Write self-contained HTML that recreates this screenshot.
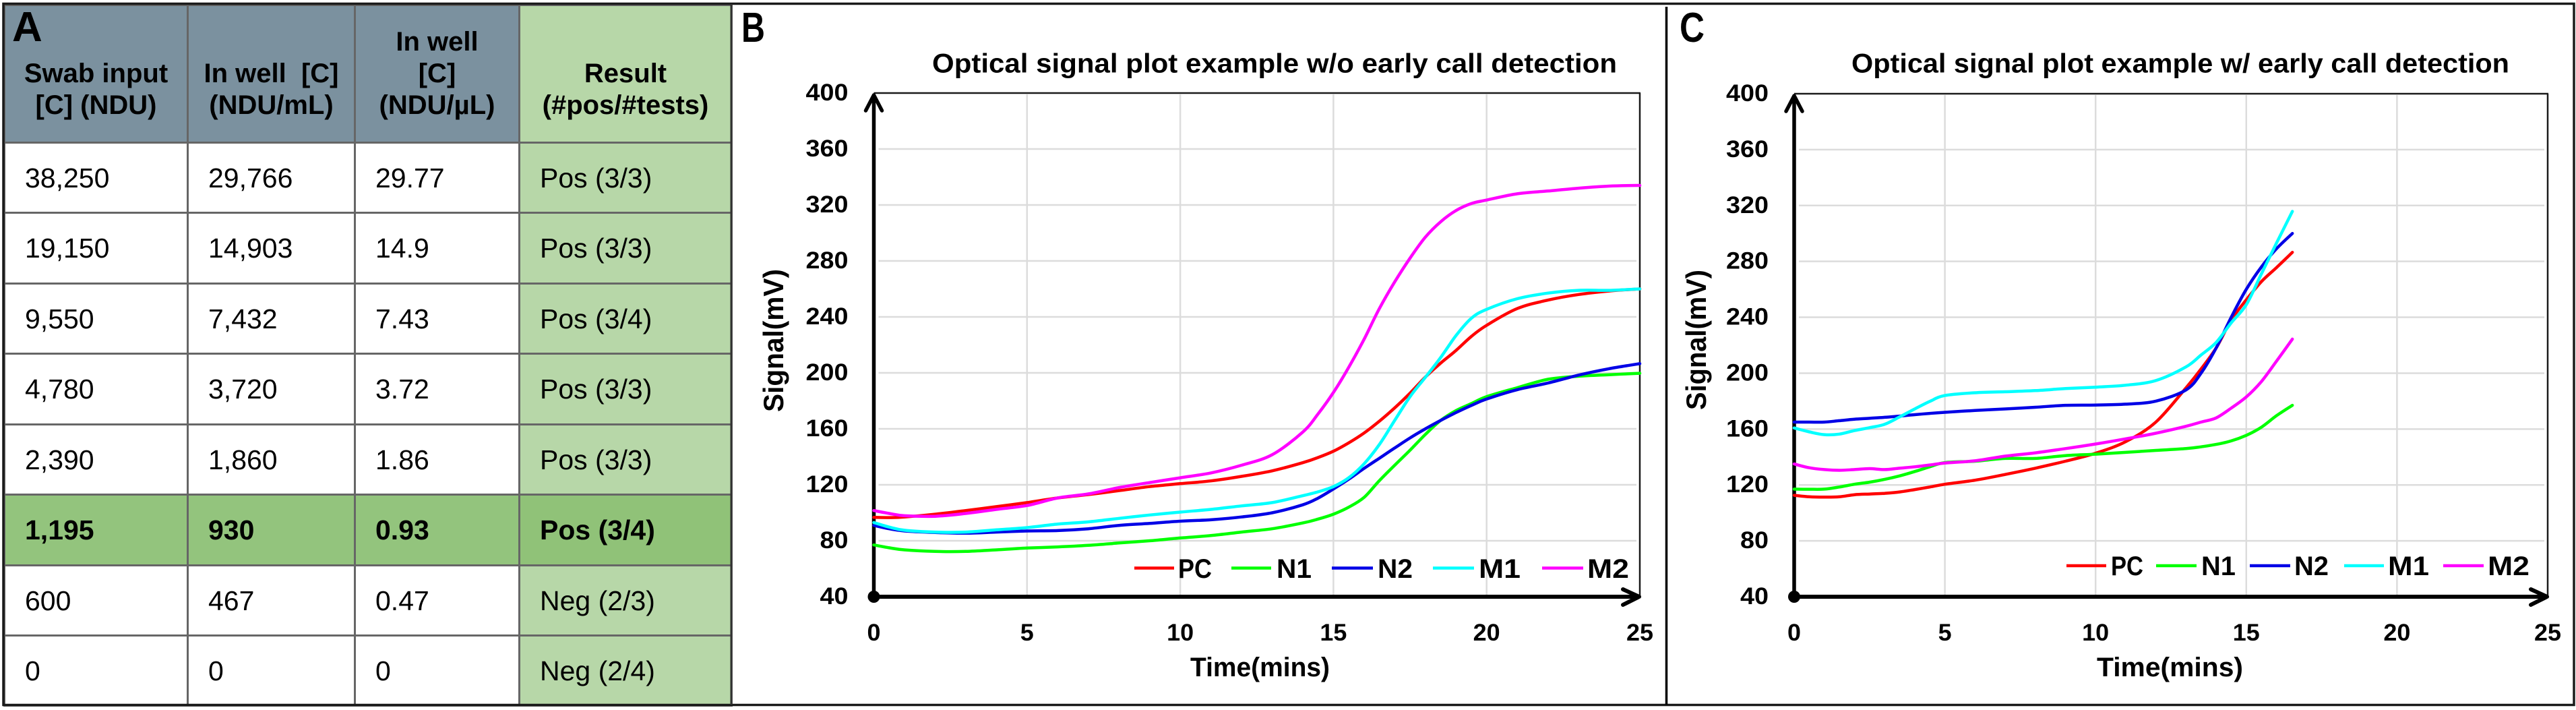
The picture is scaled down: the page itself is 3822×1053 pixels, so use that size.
<!DOCTYPE html>
<html lang="en">
<head>
<meta charset="utf-8">
<title>Optical signal plots and dilution table</title>
<style>
  html, body { margin: 0; padding: 0; background: #fff; }
  body { position: relative; width: 3822px; height: 1053px; overflow: hidden; font-family: "Liberation Sans", Arial, sans-serif; color: #000; }
  #plots { position: absolute; left: 0; top: 0; }
  #plots text { font-family: "Liberation Sans", Arial, sans-serif; font-weight: bold; fill: #000; }
  table { position: absolute; left: 5px; top: 6px; border-collapse: collapse; table-layout: fixed; width: 1079px; }
  td { border: 3px solid #666; font-size: 41px; padding: 0 0 0 29px; vertical-align: middle; line-height: 46px; background: #fff; overflow: hidden; white-space: nowrap; }
  td.r { background: #b7d7a8; }
  tr.hl td { background: #93c47d; font-weight: bold; }
  tr.hl td.r { background: #90c278; }
  tr.head td { background: #7b919f; font-size: 40px; font-weight: bold; text-align: center; padding: 0; vertical-align: bottom; padding-bottom: 30px; line-height: 47px; height: 171px; }
  tr.head td.r { background: #b7d7a8; }
  tr.body:nth-child(even) td { height: 101px; }
  tr.body:nth-child(odd) td { height: 102px; }
  tr.body:last-child td { height: 101px; }
  #label-a { position: absolute; left: 18px; top: 5px; font-size: 62px; font-weight: bold; line-height: 72px; }
</style>
</head>
<body>

<table>
  <colgroup><col style="width:272px"><col style="width:248px"><col style="width:244px"><col style="width:315px"></colgroup>
  <tr class="head">
    <td>Swab input<br>[C] (NDU)</td>
    <td>In well&nbsp; [C]<br>(NDU/mL)</td>
    <td>In well<br>[C]<br>(NDU/µL)</td>
    <td class="r">Result<br>(#pos/#tests)</td>
  </tr>
  <tr class="body"><td>38,250</td><td>29,766</td><td>29.77</td><td class="r">Pos (3/3)</td></tr>
  <tr class="body"><td>19,150</td><td>14,903</td><td>14.9</td><td class="r">Pos (3/3)</td></tr>
  <tr class="body"><td>9,550</td><td>7,432</td><td>7.43</td><td class="r">Pos (3/4)</td></tr>
  <tr class="body"><td>4,780</td><td>3,720</td><td>3.72</td><td class="r">Pos (3/3)</td></tr>
  <tr class="body"><td>2,390</td><td>1,860</td><td>1.86</td><td class="r">Pos (3/3)</td></tr>
  <tr class="body hl"><td>1,195</td><td>930</td><td>0.93</td><td class="r">Pos (3/4)</td></tr>
  <tr class="body"><td>600</td><td>467</td><td>0.47</td><td class="r">Neg (2/3)</td></tr>
  <tr class="body"><td>0</td><td>0</td><td>0</td><td class="r">Neg (2/4)</td></tr>
</table>
<div id="label-a">A</div>

<svg id="plots" width="3822" height="1053" viewBox="0 0 3822 1053" xmlns="http://www.w3.org/2000/svg">
  <rect x="5" y="5.5" width="3814" height="1040" fill="none" stroke="#1a1a1a" stroke-width="3.5"/>
  <line x1="1085" y1="6" x2="1085" y2="1045" stroke="#333" stroke-width="3"/>
  <line x1="2472.5" y1="10" x2="2472.5" y2="1045" stroke="#000" stroke-width="3.5"/>

  <text x="1100" y="62" font-size="62" textLength="35" lengthAdjust="spacingAndGlyphs">B</text>
  <text x="2492" y="62" font-size="62" textLength="37" lengthAdjust="spacingAndGlyphs">C</text>

  <text x="1383" y="107.5" font-size="40" textLength="1016" lengthAdjust="spacingAndGlyphs">Optical signal plot example w/o early call detection</text>
  <text x="2747" y="107.5" font-size="40" textLength="976" lengthAdjust="spacingAndGlyphs">Optical signal plot example w/ early call detection</text>

  <text x="1766" y="1003" font-size="40" textLength="207" lengthAdjust="spacingAndGlyphs">Time(mins)</text>
  <text x="3111" y="1003" font-size="40" textLength="217" lengthAdjust="spacingAndGlyphs">Time(mins)</text>
  <text transform="translate(1162,611) rotate(-90)" font-size="42" textLength="212" lengthAdjust="spacingAndGlyphs">Signal(mV)</text>
  <text transform="translate(2531,608) rotate(-90)" font-size="42" textLength="208" lengthAdjust="spacingAndGlyphs">Signal(mV)</text>

  <g id="chart-b"></g>
  <g id="chart-c"></g>

  <g>
    <line x1="1683" y1="842.5" x2="1742" y2="842.5" stroke="#ff0000" stroke-width="4.5"/>
    <text x="1748" y="857" font-size="40" textLength="50" lengthAdjust="spacingAndGlyphs">PC</text>
    <line x1="1827" y1="842.5" x2="1886" y2="842.5" stroke="#00ff00" stroke-width="4.5"/>
    <text x="1894" y="857" font-size="40" textLength="52" lengthAdjust="spacingAndGlyphs">N1</text>
    <line x1="1976" y1="842.5" x2="2037" y2="842.5" stroke="#0000e6" stroke-width="4.5"/>
    <text x="2044" y="857" font-size="40" textLength="52" lengthAdjust="spacingAndGlyphs">N2</text>
    <line x1="2126" y1="842.5" x2="2187" y2="842.5" stroke="#00ffff" stroke-width="4.5"/>
    <text x="2194" y="857" font-size="40" textLength="62" lengthAdjust="spacingAndGlyphs">M1</text>
    <line x1="2288" y1="842.5" x2="2349" y2="842.5" stroke="#ff00ff" stroke-width="4.5"/>
    <text x="2355" y="857" font-size="40" textLength="62" lengthAdjust="spacingAndGlyphs">M2</text>
  </g>
  <g>
    <line x1="3066" y1="839" x2="3125" y2="839" stroke="#ff0000" stroke-width="4.5"/>
    <text x="3132" y="853" font-size="40" textLength="48" lengthAdjust="spacingAndGlyphs">PC</text>
    <line x1="3199" y1="839" x2="3259" y2="839" stroke="#00ff00" stroke-width="4.5"/>
    <text x="3266" y="853" font-size="40" textLength="51" lengthAdjust="spacingAndGlyphs">N1</text>
    <line x1="3338" y1="839" x2="3398" y2="839" stroke="#0000e6" stroke-width="4.5"/>
    <text x="3404" y="853" font-size="40" textLength="51" lengthAdjust="spacingAndGlyphs">N2</text>
    <line x1="3478" y1="839" x2="3537" y2="839" stroke="#00ffff" stroke-width="4.5"/>
    <text x="3543" y="853" font-size="40" textLength="61" lengthAdjust="spacingAndGlyphs">M1</text>
    <line x1="3625" y1="839" x2="3685" y2="839" stroke="#ff00ff" stroke-width="4.5"/>
    <text x="3691" y="853" font-size="40" textLength="62" lengthAdjust="spacingAndGlyphs">M2</text>
  </g>
</svg>

<script>
const xTickLabels = [0, 5, 10, 15, 20, 25];
const yTickLabels = [40, 80, 120, 160, 200, 240, 280, 320, 360, 400];
const seriesNames = ['PC', 'N1', 'N2', 'M1', 'M2'];

const timesB = [0,0.5,1,2,3,4,5,6,7,8,9,10,11,12,13,14,14.5,15,15.5,16,16.5,17,17.5,18,18.5,19,19.5,20,21,22,23,24,25];
const pcB = [96.7,96.6,97,99,101.6,104.4,107.3,110.6,113,115.8,118.7,120.8,122.8,126,130,135.8,139.5,144,150,157,165.5,175,185.5,197,207,216,226,234,246,252,256,258.5,260];
const n1B = [77,75,73.5,72.4,72.4,73.5,74.8,75.6,76.7,78.4,80,82,83.7,86.2,88.6,92.7,95.5,99,104,111,123,134,144.7,156,166,173,178,183,189.4,195.4,197.6,198.7,199.7];
const n2B = [91,88.6,87,85.9,85.4,86.2,87,87.3,88.6,91,92.4,94,95,97,100,105.7,110.5,117,124,131.7,139,146.3,153.5,160,166,171.6,176.7,181.3,188,192.7,198.4,203,206.6];
const m1B = [93,89.8,87.5,86.2,86.2,87.8,89.4,91.9,93.5,96,98.4,100.5,102.4,104.9,107.3,112.2,115,118.7,125,135,148.8,166,183,196.8,211,226.6,239,245.4,253,257,259,259,260];
const m2B = [101.6,99.5,97.9,97.5,99.5,102.4,105.2,110.6,113.5,118,121.6,125,128.5,134,141.5,157.7,170.7,186,204,224,246,265,282,297,308,316,321,323.5,328,330,332,333.5,334];

const timesC = [0,0.5,1,1.5,2,2.5,3,3.5,4,4.5,5,6,7,8,9,10,11,12,13,13.5,14,14.5,15,15.5,16,16.53];
const pcC = [112.6,111.5,111.3,111.5,113,113.5,114,115,116.7,118.5,120.5,123.4,127.5,132,137,142.7,151,165,189.5,203,218,238,252.5,265.5,275.5,286.5];
const n1C = [117,116.9,117,118.5,120.5,122,124,126.5,129.6,133,136,137,139,139,141,142,143.3,144.7,146,147.3,149,151.5,155.5,161.3,169.5,177];
const n2C = [165,165,165,166,167,167.7,168.4,169.3,170.3,171.2,172,173.3,174.4,175.6,177,177.2,177.8,180,188,200,218,240,260,276,289,300];
const m1C = [160.8,158,156,156.4,158.9,161,163.4,168.7,174.4,179.8,184,186,186.7,187.5,189,190,191.4,194.7,204.5,213,222,236,249,271,293,315.8];
const m2C = [135,132.3,131,130.5,131,131.7,131,132,133,134.3,135.7,137.3,140.6,143,146,149.3,153,157,162,165,168,175,183,194,208.5,224.4];

const SVG_NS = 'http://www.w3.org/2000/svg';
const seriesColors = ['#ff0000', '#00ff00', '#0000e6', '#00ffff', '#ff00ff'];

function make(parent, tag, attrs) {
  const el = document.createElementNS(SVG_NS, tag);
  Object.keys(attrs).forEach(function (k) { el.setAttribute(k, attrs[k]); });
  parent.appendChild(el);
  return el;
}

function smoothPath(pts) {
  let d = 'M' + pts[0][0].toFixed(1) + ' ' + pts[0][1].toFixed(1);
  for (let i = 0; i < pts.length - 1; i++) {
    const p0 = pts[Math.max(i - 1, 0)], p1 = pts[i], p2 = pts[i + 1], p3 = pts[Math.min(i + 2, pts.length - 1)];
    const c1x = p1[0] + (p2[0] - p0[0]) / 6, c1y = p1[1] + (p2[1] - p0[1]) / 6;
    const c2x = p2[0] - (p3[0] - p1[0]) / 6, c2y = p2[1] - (p3[1] - p1[1]) / 6;
    d += 'C' + c1x.toFixed(1) + ' ' + c1y.toFixed(1) + ' ' + c2x.toFixed(1) + ' ' + c2y.toFixed(1) + ' ' + p2[0].toFixed(1) + ' ' + p2[1].toFixed(1);
  }
  return d;
}

function renderChart(root, box, times, seriesList) {
  const xScale = function (t) { return box.x0 + (t / 25) * (box.x1 - box.x0); };
  const yScale = function (v) { return box.y40 - ((v - 40) / 360) * (box.y40 - box.y400); };

  yTickLabels.forEach(function (v) {
    if (v !== 40 && v !== 400) {
      const g = make(root, 'line', { x1: box.x0 + 7, x2: box.x1 - 5, y1: yScale(v), y2: yScale(v), stroke: '#dcdcdc', 'stroke-width': 2.5 });
      
      
    }
    const t = make(root, 'text', { x: box.yLabelX, y: yScale(v) + 11, 'font-size': 35, 'text-anchor': 'end', textLength: String(v).length * 21, lengthAdjust: 'spacingAndGlyphs' });
    t.textContent = v;
    
    
  });

  xTickLabels.forEach(function (v) {
    if (v !== 0 && v !== 25) {
      const g = make(root, 'line', { x1: xScale(v), x2: xScale(v), y1: box.y400 + 2, y2: box.y40 - 2, stroke: '#dcdcdc', 'stroke-width': 2.5 });
      
      
    }
    const t = make(root, 'text', { x: xScale(v), y: 950, 'font-size': 35, 'text-anchor': 'middle', textLength: String(v).length * 20, lengthAdjust: 'spacingAndGlyphs' });
    t.textContent = v;
    
    
  });

  const topLine = make(root, 'line', { x1: box.x0, x2: box.x1 + 1, y1: box.y400, y2: box.y400, stroke: '#1a1a1a', 'stroke-width': 2.5 });
  
  
  const rightLine = make(root, 'line', { x1: box.x1, x2: box.x1, y1: box.y400, y2: box.y40, stroke: '#1a1a1a', 'stroke-width': 2.5 });
  
  

  const yAxis = make(root, 'path', { d: 'M' + box.x0 + ' ' + box.y40 + 'V' + (box.y400 + 3) + 'M' + (box.x0 - 12) + ' ' + (box.y400 + 26) + 'L' + box.x0 + ' ' + (box.y400 + 3) + 'L' + (box.x0 + 12) + ' ' + (box.y400 + 26), fill: 'none', stroke: '#000', 'stroke-width': 5.5, 'stroke-linecap': 'round', 'stroke-linejoin': 'round' });
  
  
  const xAxis = make(root, 'path', { d: 'M' + box.x0 + ' ' + box.y40 + 'H' + (box.x1 - 1) + 'M' + (box.x1 - 25) + ' ' + (box.y40 - 11) + 'L' + (box.x1 - 1) + ' ' + box.y40 + 'L' + (box.x1 - 25) + ' ' + (box.y40 + 12), fill: 'none', stroke: '#000', 'stroke-width': 6, 'stroke-linecap': 'round', 'stroke-linejoin': 'round' });
  
  
  const dot = make(root, 'circle', { cx: box.x0, cy: box.y40, r: 9, fill: '#000' });
  
  

  seriesList.forEach(function (values, i) {
    const pts = values.map(function (v, j) { return [xScale(times[j]), yScale(v)]; });
    const line = make(root, 'path', { d: smoothPath(pts), fill: 'none', stroke: seriesColors[i], 'stroke-width': 4.5, 'stroke-linecap': 'round', 'stroke-linejoin': 'round' });
    
    
  });
}

renderChart(document.getElementById('chart-b'), { x0: 1296.5, x1: 2433, y40: 885, y400: 138, yLabelX: 1258.5 }, timesB, [pcB, n1B, n2B, m1B, m2B]);
renderChart(document.getElementById('chart-c'), { x0: 2662, x1: 3780, y40: 885, y400: 139, yLabelX: 2624 }, timesC, [pcC, n1C, n2C, m1C, m2C]);
</script>
</body>
</html>
